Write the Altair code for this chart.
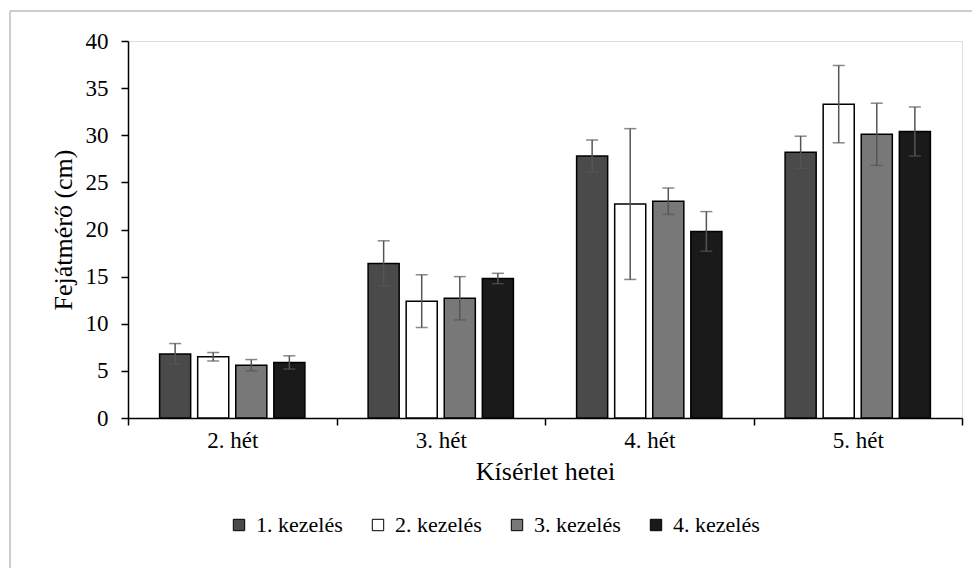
import altair as alt
import pandas as pd

weeks = ["2. hét", "3. hét", "4. hét", "5. hét"]
treatments = ["1. kezelés", "2. kezelés", "3. kezelés", "4. kezelés"]
colors = ["#4a4a4a", "#ffffff", "#787878", "#1a1a1a"]

mean_t1 = [6.8, 16.4, 27.8, 28.2]
mean_t2 = [6.5, 12.4, 22.7, 33.3]
mean_t3 = [5.6, 12.7, 23.0, 30.1]
mean_t4 = [5.9, 14.8, 19.8, 30.4]

err_t1 = [1.1, 2.4, 1.7, 1.7]
err_t2 = [0.45, 2.8, 8.0, 4.1]
err_t3 = [0.6, 2.3, 1.4, 3.3]
err_t4 = [0.7, 0.55, 2.1, 2.6]

means = [mean_t1, mean_t2, mean_t3, mean_t4]
errs = [err_t1, err_t2, err_t3, err_t4]

rows = []
for ti, t in enumerate(treatments):
    for wi, w in enumerate(weeks):
        m = means[ti][wi]
        e = errs[ti][wi]
        rows.append({"week": w, "treat": t, "mean": m, "lo": m - e, "hi": m + e})
df = pd.DataFrame(rows)

FONT = "Liberation Serif"

x_enc = alt.X(
    "week:N",
    sort=weeks,
    scale=alt.Scale(paddingInner=0, paddingOuter=0),
    axis=alt.Axis(
        title="Kísérlet hetei",
        labelAngle=0,
        tickBand="extent",
        tickSize=7,
        tickColor="black",
        tickWidth=1.5,
        domainColor="black",
        domainWidth=1.5,
        labelFont=FONT,
        labelFontSize=23,
        labelColor="black",
        labelPadding=4,
        titleFont=FONT,
        titleFontSize=26,
        titleFontWeight="normal",
        titleColor="black",
        titlePadding=6,
    ),
)
xoff_enc = alt.XOffset(
    "treat:N", sort=treatments, scale=alt.Scale(paddingInner=0.184, paddingOuter=0.83)
)

bars = alt.Chart(df).mark_bar(stroke="black", strokeWidth=1.5).encode(
    x=x_enc,
    xOffset=xoff_enc,
    y=alt.Y(
        "mean:Q",
        scale=alt.Scale(domain=[0, 40]),
        axis=alt.Axis(
            values=list(range(0, 41, 5)),
            title="Fejátmérő (cm)",
            grid=False,
            tickSize=7,
            tickColor="black",
            tickWidth=1.5,
            domainColor="black",
            domainWidth=1.5,
            labelFont=FONT,
            labelFontSize=23,
            labelColor="black",
            labelPadding=13,
            titleFont=FONT,
            titleFontSize=26,
            titleFontWeight="normal",
            titleColor="black",
            titlePadding=9,
        ),
    ),
    color=alt.Color(
        "treat:N",
        sort=treatments,
        scale=alt.Scale(domain=treatments, range=colors),
        legend=alt.Legend(
            title=None,
            orient="none",
            legendX=100,
            legendY=473,
            direction="horizontal",
            symbolType="square",
            symbolSize=130,
            symbolStrokeColor="black",
            symbolStrokeWidth=1,
            labelFont=FONT,
            labelFontSize=22,
            labelColor="black",
            labelOffset=6,
            columnPadding=24,
        ),
    ),
)

rules = alt.Chart(df).mark_rule(color="#555555", strokeWidth=1.5).encode(
    x=alt.X("week:N", sort=weeks),
    xOffset=alt.XOffset("treat:N", sort=treatments),
    y="lo:Q",
    y2="hi:Q",
)
cap_lo = alt.Chart(df).mark_tick(color="#555555", thickness=1.5, size=12).encode(
    x=alt.X("week:N", sort=weeks),
    xOffset=alt.XOffset("treat:N", sort=treatments),
    y="lo:Q",
)
cap_hi = alt.Chart(df).mark_tick(color="#555555", thickness=1.5, size=12).encode(
    x=alt.X("week:N", sort=weeks),
    xOffset=alt.XOffset("treat:N", sort=treatments),
    y="hi:Q",
)

frame_top = alt.Chart(df).mark_rule(color="#cccccc", strokeWidth=1.5).encode(
    x=alt.value(-118), x2=alt.value(850), y=alt.value(-30)
)
frame_left = alt.Chart(df).mark_rule(color="#cccccc", strokeWidth=1.5).encode(
    x=alt.value(-118), y=alt.value(-30), y2=alt.value(540)
)

chart = (
    alt.layer(frame_top, frame_left, bars, rules, cap_lo, cap_hi)
    .properties(
        width=834,
        height=377,
        autosize=alt.AutoSizeParams(type="none"),
        padding={"left": 120, "top": 33, "right": 10, "bottom": 150},
    )
    .configure_view(stroke=None)
    .configure(background="white")
)

chart.save("out.html", embed_options={"renderer": "svg", "actions": False})
